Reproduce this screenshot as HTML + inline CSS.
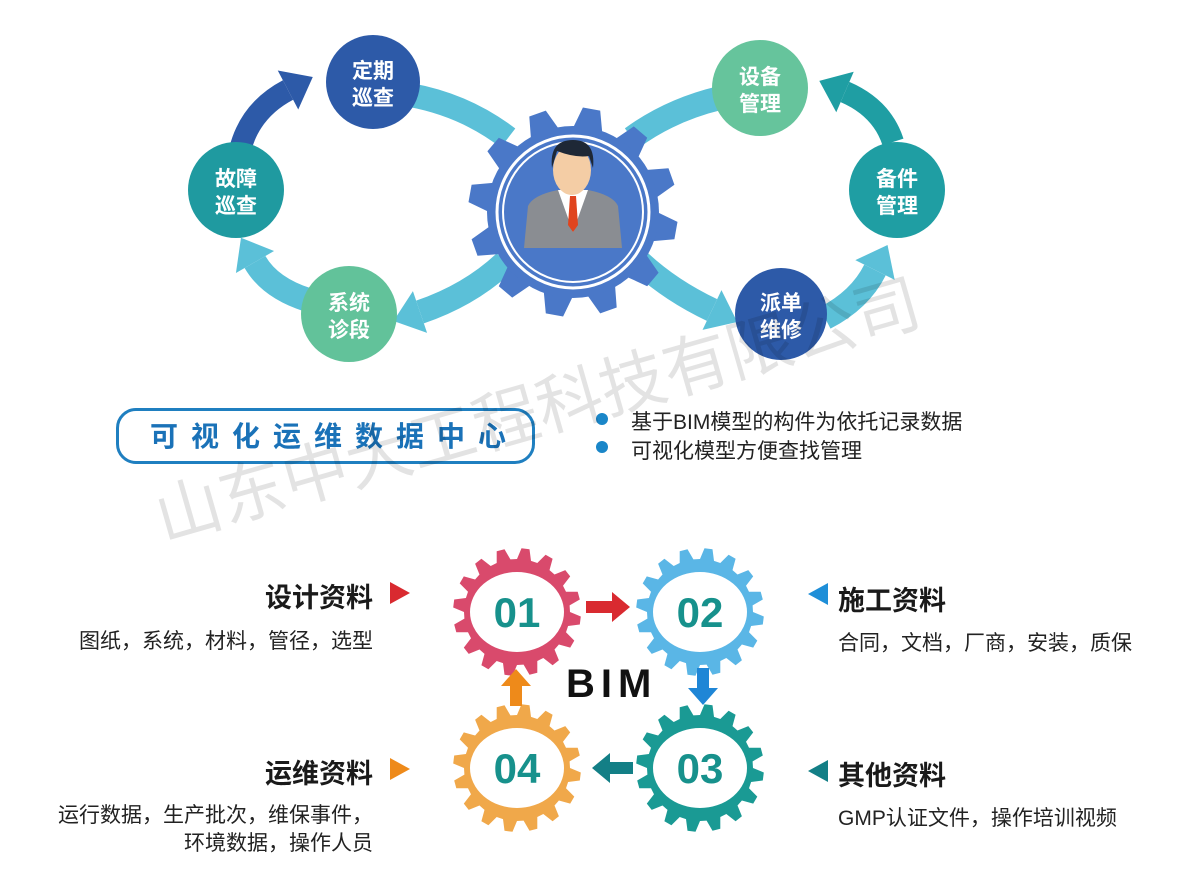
<!DOCTYPE html>
<html><head><meta charset="utf-8"><style>
html,body{margin:0;padding:0;background:#fff;}
body{width:1187px;height:876px;position:relative;overflow:hidden;font-family:"Liberation Sans","Noto Sans CJK SC",sans-serif;}
.t{position:absolute;white-space:nowrap;color:#222;}
.h{font-size:27px;font-weight:bold;color:#1a1a1a;}
.s{font-size:21px;color:#222;}
</style></head><body>
<svg id="g" width="1187" height="876" style="position:absolute;left:0;top:0">
</svg>
<div class="t" style="left:116px;top:408px;width:413px;height:50px;border:3px solid #1f7fc0;border-radius:20px;"></div>
<div class="t" style="left:150px;top:415px;font-size:28px;font-weight:bold;color:#1a72b8;letter-spacing:13px;">可视化运维数据中心</div>
<div class="t" style="left:596px;top:413px;width:12px;height:12px;border-radius:6px;background:#1a86c8"></div>
<div class="t" style="left:596px;top:441px;width:12px;height:12px;border-radius:6px;background:#1a86c8"></div>
<div class="t s" style="left:631px;top:406px;">基于BIM模型的构件为依托记录数据</div>
<div class="t s" style="left:631px;top:435px;">可视化模型方便查找管理</div>

<div class="t h" style="right:814px;top:576px">设计资料</div>
<div class="t s" style="right:814px;top:625px">图纸，系统，材料，管径，选型</div>
<div class="t h" style="left:838px;top:579px">施工资料</div>
<div class="t s" style="left:838px;top:627px">合同，文档，厂商，安装，质保</div>
<div class="t h" style="right:814px;top:752px">运维资料</div>
<div class="t s" style="right:814px;top:799px">运行数据，生产批次，维保事件，</div>
<div class="t s" style="right:814px;top:827px">环境数据，操作人员</div>
<div class="t h" style="left:838px;top:754px">其他资料</div>
<div class="t s" style="left:838px;top:802px">GMP认证文件，操作培训视频</div>
<div class="t" style="left:566px;top:662px;font-size:40px;font-weight:bold;letter-spacing:6px;color:#111">BIM</div>

<div class="t" style="left:168px;top:478px;font-size:66px;line-height:80px;color:rgba(0,0,0,0.11);transform:rotate(-16deg);transform-origin:0 100%;">山东中大工程科技有限公司</div>

<script>
var S=document.getElementById('g'),NS='http://www.w3.org/2000/svg';
function el(t,a){var e=document.createElementNS(NS,t);for(var k in a)e.setAttribute(k,a[k]);S.appendChild(e);return e;}
function gear(cx,cy,ro,ri,n,col){var p='',st=Math.PI*2/n;for(var i=0;i<n;i++){var a=i*st;var pts=[[ri,a],[ro,a+st*0.18],[ro,a+st*0.5],[ri,a+st*0.68]];pts.forEach(function(q,j){var x=cx+q[0]*Math.cos(q[1]),y=cy+q[0]*Math.sin(q[1]);p+=(i==0&&j==0?'M':'L')+x.toFixed(1)+','+y.toFixed(1);});}
el('path',{d:p+'Z',fill:col});}
function arc(x0,y0,cx,cy,x1,y1,col,w,arrow){
 el('path',{d:'M'+x0+','+y0+' Q'+cx+','+cy+' '+x1+','+y1,stroke:col,'stroke-width':w,fill:'none'});
 if(arrow){var dx=x1-cx,dy=y1-cy,l=Math.hypot(dx,dy);dx/=l;dy/=l;var nx=-dy,ny=dx,L=28,W=22;
 var tx=x1+dx*L,ty=y1+dy*L;
 el('polygon',{points:tx+','+ty+' '+(x1+nx*W)+','+(y1+ny*W)+' '+(x1-nx*W)+','+(y1-ny*W),fill:col});}}
arc(240,150,250,110,288,90,'#2d5aa8',22,true);
arc(410,95,465,105,508,138,'#5bc0d8',24,false);
arc(505,262,470,295,420,312,'#5bc0d8',24,true);
arc(308,300,270,288,255,262,'#5bc0d8',24,true);
arc(893,142,882,108,845,92,'#1f9ea3',22,true);
arc(720,98,670,110,632,138,'#5bc0d8',24,false);
arc(640,262,670,290,712,310,'#5bc0d8',24,true);
arc(825,318,860,300,875,270,'#5bc0d8',24,true);
function circ(x,y,r,c,t1,t2){el('circle',{cx:x,cy:y,r:r,fill:c});var a=el('text',{x:x,y:y-4,'text-anchor':'middle','font-size':21,'font-weight':'bold',fill:'#fff','font-family':'Noto Sans CJK SC,sans-serif'});a.textContent=t1;var b=el('text',{x:x,y:y+23,'text-anchor':'middle','font-size':21,'font-weight':'bold',fill:'#fff','font-family':'Noto Sans CJK SC,sans-serif'});b.textContent=t2;}
circ(373,82,47,'#2d5aa8','定期','巡查');
circ(236,190,48,'#1f9aa0','故障','巡查');
circ(349,314,48,'#62c29a','系统','诊段');
circ(760,88,48,'#66c49c','设备','管理');
circ(897,190,48,'#1f9ea3','备件','管理');
circ(781,314,46,'#2d5aa8','派单','维修');
gear(573,212,105,84,12,'#4a78c8');
el('circle',{cx:573,cy:212,r:86,fill:'#4a78c8'});
el('circle',{cx:573,cy:212,r:76,fill:'none',stroke:'#fff','stroke-width':3});
el('circle',{cx:573,cy:212,r:70,fill:'none',stroke:'#fff','stroke-width':2});
el('path',{d:'M524,248 L528,206 Q533,195 558,190 L588,190 Q613,195 618,206 L622,248 Z',fill:'#8a8d92'});
el('path',{d:'M558,190 L573,232 L588,190 Z',fill:'#fff'});
el('path',{d:'M570,196 L576,196 L578,225 L573,232 L568,225 Z',fill:'#e0441e'});
el('ellipse',{cx:572,cy:170,rx:19,ry:25,fill:'#f4cda5'});
el('path',{d:'M552,168 Q549,140 573,140 Q596,140 593,168 L589,156 Q575,158 557,151 Z',fill:'#1e2836'});
function bg(cx,cy,col,txt){gear(cx,cy,64,53,16,col);el('ellipse',{cx:cx,cy:cy,rx:48,ry:41,fill:'#fff',stroke:col,'stroke-width':2});
 var t=el('text',{x:cx,y:cy+15,'text-anchor':'middle','font-size':42,'font-weight':'bold',fill:'#17918c','font-family':'Liberation Sans,sans-serif'});t.textContent=txt;}
bg(517,612,'#d94a6c','01');bg(700,612,'#5ab6e6','02');bg(700,768,'#1a9a94','03');bg(517,768,'#f0a84a','04');
el('polygon',{points:'586,601 612,601 612,592 630,607 612,622 612,613 586,613',fill:'#d92a30'});
el('polygon',{points:'697,668 709,668 709,688 718,688 703,705 688,688 697,688',fill:'#1f86d6'});
el('polygon',{points:'633,762 610,762 610,753 592,768 610,783 610,774 633,774',fill:'#137f86'});
el('polygon',{points:'510,706 522,706 522,686 531,686 516,669 501,686 510,686',fill:'#ee8a1a'});
el('polygon',{points:'390,582 410,593 390,604',fill:'#d92a30'});
el('polygon',{points:'828,583 808,594 828,605',fill:'#1f8fd8'});
el('polygon',{points:'390,758 410,769 390,780',fill:'#ee8a1a'});
el('polygon',{points:'828,760 808,771 828,782',fill:'#137f86'});
</script>
</body></html>
